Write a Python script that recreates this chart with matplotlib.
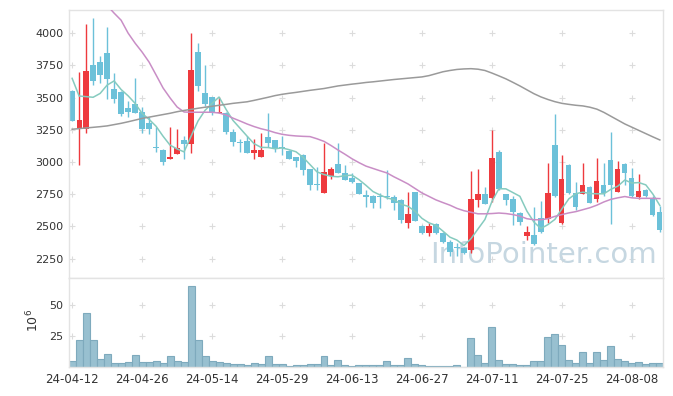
import numpy as np
import pandas as pd
import matplotlib
matplotlib.use('Agg')
import matplotlib.pyplot as plt

# daily candles (KRW)
opens = [3553, 3267, 3254, 3752, 3775, 3847, 3566, 3546, 3422, 3450,
         3386, 3306, 3113, 3094, 3022, 3061, 3171, 3141, 3853, 3533,
         3502, 3378, 3383, 3236, 3153, 3164, 3073, 3042, 3197, 3171,
         3109, 3089, 3037, 3055, 2945, 2825, 2763, 2895, 2986, 2913,
         2875, 2836, 2746, 2733, 2738, 2738, 2728, 2707, 2527, 2769,
         2506, 2449, 2521, 2449, 2382, 2341, 2333, 2314, 2702, 2753,
         2722, 3081, 2753, 2712, 2604, 2423, 2433, 2562, 2557, 3133,
         2527, 2978, 2763, 2748, 2805, 2712, 2823, 3017, 2771, 2986,
         2875, 2728, 2784, 2720, 2614]
highs = [3556, 3698, 4067, 4114, 3822, 4044, 3688, 3550, 3473, 3652,
         3430, 3352, 3275, 3102, 3270, 3254, 3202, 3997, 3920, 3750,
         3507, 3507, 3390, 3254, 3177, 3202, 3182, 3228, 3378, 3171,
         3202, 3092, 3040, 3063, 2948, 2960, 3151, 2960, 3151, 2976,
         2913, 2838, 2779, 2746, 2763, 2934, 2746, 2710, 2771, 2771,
         2508, 2527, 2525, 2460, 2397, 2371, 2340, 2929, 2945, 2805,
         3249, 3094, 2755, 2733, 2610, 2500, 2650, 2697, 2991, 3373,
         3053, 2985, 2841, 2991, 2810, 3030, 2991, 3231, 3009, 2996,
         2952, 2908, 2787, 2733, 2655]
lows = [3318, 2976, 3228, 3597, 3615, 3487, 3456, 3360, 3352, 3378,
        3223, 3218, 3081, 2978, 3022, 3061, 3022, 3073, 3553, 3435,
        3365, 3378, 3216, 3127, 3079, 3068, 3022, 3042, 3120, 3081,
        3055, 3022, 2965, 2900, 2779, 2784, 2763, 2867, 2913, 2862,
        2836, 2748, 2650, 2640, 2643, 2712, 2624, 2527, 2488, 2539,
        2445, 2428, 2445, 2370, 2268, 2268, 2290, 2294, 2650, 2676,
        2686, 2784, 2668, 2511, 2511, 2397, 2358, 2449, 2527, 2728,
        2521, 2755, 2630, 2748, 2678, 2686, 2738, 2519, 2771, 2823,
        2728, 2712, 2728, 2583, 2459]
closes = [3321, 3326, 3706, 3631, 3675, 3644, 3489, 3373, 3386, 3383,
          3254, 3257, 3105, 2999, 3037, 3110, 3141, 3714, 3590, 3450,
          3378, 3388, 3236, 3158, 3149, 3073, 3094, 3094, 3151, 3102,
          3105, 3027, 3011, 2939, 2818, 2821, 2924, 2945, 2918, 2862,
          2841, 2748, 2725, 2678, 2728, 2728, 2681, 2547, 2598, 2539,
          2449, 2506, 2449, 2376, 2304, 2335, 2294, 2712, 2753, 2676,
          3032, 2790, 2707, 2609, 2531, 2459, 2366, 2454, 2760, 2733,
          2867, 2759, 2650, 2821, 2681, 2855, 2759, 2823, 2946, 2918,
          2738, 2777, 2733, 2591, 2475]
# closes of the four sessions before the window (for the 5-day line)
prev_closes = [4011, 3731, 3656, 3526]

# 20 and 60 day lines
ma20 = [np.nan, np.nan, np.nan, np.nan, np.nan, 4215, 4155, 4100, 4000, 3922,
        3853, 3775, 3675, 3574, 3497, 3427, 3388, 3386, 3386, 3386,
        3386, 3380, 3365, 3340, 3318, 3295, 3275, 3258, 3245, 3228,
        3215, 3207, 3202, 3199, 3197, 3180, 3160, 3128, 3093, 3060,
        3025, 2995, 2968, 2950, 2932, 2915, 2885, 2858, 2830, 2795,
        2760, 2733, 2706, 2685, 2665, 2640, 2622, 2610, 2598, 2598,
        2600, 2604, 2600, 2592, 2580, 2560, 2552, 2552, 2560, 2578,
        2592, 2605, 2615, 2630, 2645, 2665, 2690, 2710, 2722, 2732,
        2722, 2718, 2718, 2718, 2716]
ma60 = [3254, 3259, 3264, 3269, 3274, 3280, 3290, 3300, 3312, 3325,
        3338, 3348, 3358, 3368, 3378, 3390, 3400, 3408, 3417, 3425,
        3432, 3440, 3447, 3455, 3461, 3467, 3478, 3490, 3502, 3515,
        3525, 3533, 3540, 3548, 3556, 3563, 3570, 3580, 3590, 3597,
        3604, 3610, 3617, 3622, 3628, 3634, 3640, 3645, 3650, 3655,
        3660, 3670, 3685, 3700, 3710, 3718, 3722, 3724, 3720, 3710,
        3690, 3668, 3645, 3618, 3590, 3560, 3530, 3505, 3485, 3468,
        3455, 3447, 3440, 3435, 3425, 3410, 3385, 3355, 3325, 3295,
        3270, 3245, 3220, 3195, 3171]

# volume in millions of shares
volume = [5.1, 22.0, 43.5, 21.8, 6.5, 10.5, 3.2, 3.2, 4.3, 9.7,
          4.3, 4.3, 5.1, 3.5, 8.9, 5.1, 4.3, 65.6, 21.8, 8.9,
          5.1, 4.3, 3.5, 2.7, 2.7, 1.9, 3.5, 2.7, 8.9, 2.7,
          2.7, 0.8, 1.6, 1.6, 2.4, 2.4, 8.9, 1.6, 5.6, 1.6,
          0.8, 1.6, 1.6, 1.6, 1.6, 4.8, 1.6, 1.6, 7.3, 2.4,
          1.6, 0.8, 0.8, 0.8, 0.8, 1.6, 0.3, 23.4, 9.7, 3.2,
          32.3, 5.6, 2.4, 2.4, 1.6, 1.6, 4.8, 4.8, 24.2, 26.6,
          17.7, 5.6, 3.2, 12.1, 3.2, 12.1, 5.6, 16.9, 6.5, 4.8,
          3.2, 4.0, 2.4, 3.2, 3.2]

tick_pos = [0, 10, 20, 30, 40, 50, 60, 70, 80]
tick_labels = ['24-04-12', '24-04-26', '24-05-14', '24-05-29', '24-06-13',
               '24-06-27', '24-07-11', '24-07-25', '24-08-08']
price_ticks = [2250, 2500, 2750, 3000, 3250, 3500, 3750, 4000]
vol_ticks = [25, 50]

UP = '#ee3a3e'
DOWN = '#6cc1d9'

x = np.arange(len(closes))
ma5 = pd.Series(prev_closes + closes).rolling(5).mean().to_numpy()[len(prev_closes):]

fig = plt.figure(figsize=(6.73, 3.96), dpi=100)
ax = fig.add_axes([0.1025, 0.298, 0.8826, 0.677])
axv = fig.add_axes([0.1025, 0.0732, 0.8826, 0.2247], sharex=ax)

# candles
o = np.array(opens); c = np.array(closes)
colors = [UP if cc >= oo else DOWN for oo, cc in zip(o, c)]
ax.vlines(x, lows, highs, colors=colors, linewidth=1.0, zorder=2)
bottoms = np.minimum(o, c)
heights = np.maximum(np.abs(c - o), 9)
ax.bar(x, heights, bottom=bottoms, width=0.75, color=colors, linewidth=0, zorder=2)

# moving averages
ax.plot(x, ma5, color='#86cbbf', linewidth=1.1, zorder=3)
ax.plot(x, ma20, color='#c98ec6', linewidth=1.1, zorder=3)
ax.plot(x, ma60, color='#9a9a9a', linewidth=1.1, zorder=3)

ax.text(0.99, 0.035, 'InfoPointer.com', transform=ax.transAxes, ha='right',
        va='bottom', fontsize=21, color='#c6d7e1', zorder=1)

# volume bars
axv.bar(x, volume, width=1.0, color='#98c0d0', edgecolor='#7eaabd', linewidth=0.8, zorder=2)

ax.set_xlim(-0.45, 84.45)
ax.set_ylim(2100, 4180)
axv.set_ylim(0, 72)

ax.set_yticks(price_ticks)
axv.set_yticks(vol_ticks)
axv.set_xticks(tick_pos)
axv.set_xticklabels(tick_labels)
plt.setp(ax.get_xticklabels(), visible=False)

for a in (ax, axv):
    a.tick_params(length=0, labelsize=8, colors='#333333', pad=4)
    for s in a.spines.values():
        s.set_color('#e3e3e3')
        s.set_linewidth(1.0)
axv.tick_params(axis='x', labelsize=8.5, pad=4)

# grid drawn as small crosses
gx, gy = np.meshgrid(tick_pos, price_ticks)
ax.scatter(gx.ravel(), gy.ravel(), marker='+', s=18, color='#dcdcdc', linewidth=0.8, zorder=0)
gx, gy = np.meshgrid(tick_pos, vol_ticks)
axv.scatter(gx.ravel(), gy.ravel(), marker='+', s=18, color='#dcdcdc', linewidth=0.8, zorder=0)

axv.text(-0.06, 0.52, r'$10^6$', transform=axv.transAxes, rotation=90,
         ha='center', va='center', fontsize=9, color='#333333')

fig.savefig('out.png', dpi=100)
